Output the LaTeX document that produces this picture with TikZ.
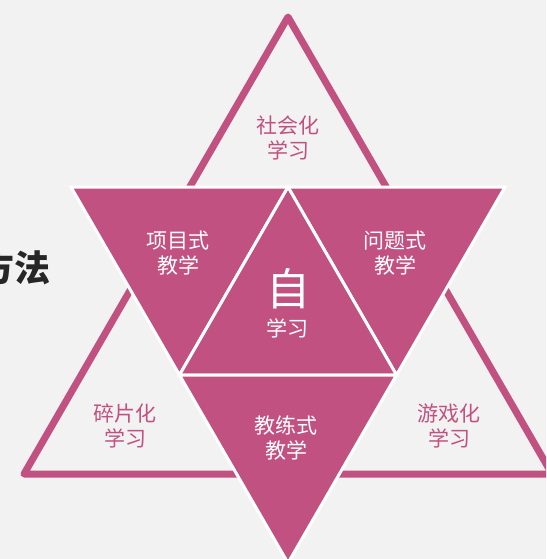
\documentclass[tikz,border=0pt]{standalone}
\usepackage{fontspec}
\newfontfamily\cjk{Noto Sans CJK SC}
\usetikzlibrary{positioning}
\definecolor{rose}{RGB}{192,81,128}
\definecolor{paper}{RGB}{242,242,242}
\definecolor{ink}{RGB}{38,38,38}

\begin{document}
\begin{tikzpicture}[x=1pt,y=-1pt,
  outtext/.style={text=rose,align=center,inner sep=0pt,font=\cjk\fontsize{21}{25}\selectfont},
  intext/.style={text=white,align=center,inner sep=0pt,font=\cjk\fontsize{21}{25}\selectfont},
  piece/.style={fill=rose,draw=white,line width=3pt,line join=miter}]
\useasboundingbox (0,0) rectangle (546,559);
\clip (0,0) rectangle (546,559);
\fill[paper] (0,0) rectangle (546,559);

% big outlined triangle
\draw[rose,line width=7pt,line join=round]
(288,17) coordinate (top) --
(24,474) coordinate (left) --
(552,474) coordinate (right) --
cycle;

% filled pieces
\filldraw[piece]
(71,187) coordinate (tl) --
(288,187) coordinate (tm) --
(179.5,375) coordinate (ml) --
cycle;
\filldraw[piece]
(288,187) --
(505,187) coordinate (tr) --
(396.5,375) coordinate (mr) --
cycle;
\filldraw[piece]
(288,187) --
(396.5,375) --
(179.5,375) --
cycle;
\filldraw[piece]
(179.5,375) --
(396.5,375) --
(288,563) coordinate (bot) --
cycle;

\node[anchor=east,inner sep=0pt,text=ink,font=\cjk\bfseries\fontsize{36}{36}\selectfont] (fangfa) at (51,268) {方法};

\node[outtext] (shehui) at (288,138) {社会化\\学习};
\node[outtext] (suipian) at (125,426) {碎片化\\学习};
\node[outtext] (youxi) at (449,426) {游戏化\\学习};

\node[intext] (xiangmu) at (178,253) {项目式\\教学};
\node[intext] (wenti) at (395,253) {问题式\\教学};
\node[intext] (jiaolian) at (286,438) {教练式\\教学};

\node[text=white,inner sep=0pt,font=\cjk\fontsize{44}{44}\selectfont] (zi) at (288,289) {自};
\node[intext] (xuexi) at (287,328) {学习};

\end{tikzpicture}
\end{document}
